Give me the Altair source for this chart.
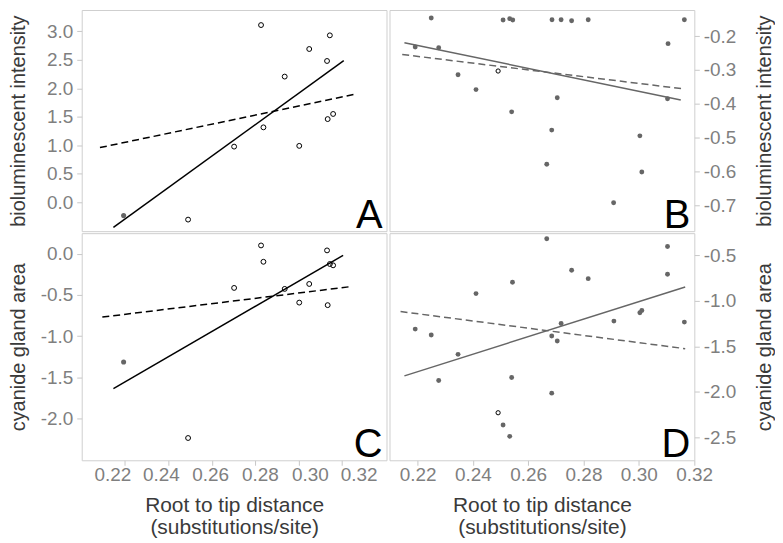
import altair as alt
import pandas as pd

FONT = "Liberation Sans"
X_TICKS = [0.22, 0.24, 0.26, 0.28, 0.30, 0.32]

# ---------------- Panel A / C (left column, same taxa) ----------------
ac_x = [0.2194, 0.2491, 0.2703, 0.2827, 0.2838, 0.2936, 0.3003, 0.3049, 0.3131, 0.3144, 0.3134, 0.3159]
ac_open = [0, 1, 1, 1, 1, 1, 1, 1, 1, 1, 1, 1]
a_y = [-0.234, -0.304, 0.977, 3.11, 1.315, 2.206, 0.99, 2.69, 2.48, 2.93, 1.46, 1.55]
c_y = [-1.312, -2.234, -0.414, 0.101, -0.097, -0.426, -0.592, -0.366, 0.041, -0.124, -0.623, -0.14]

# ---------------- Panel B ----------------
b_x = [0.2191, 0.2249, 0.2276, 0.2346, 0.2411, 0.2491, 0.2509, 0.2533, 0.2544, 0.2540, 0.2667, 0.2685,
       0.2686, 0.2705, 0.2719, 0.2757, 0.2817, 0.2909, 0.3004, 0.3011, 0.3106, 0.3104, 0.3165]
b_y = [-0.232, -0.146, -0.234, -0.314, -0.358, -0.303, -0.152, -0.148, -0.152, -0.424, -0.579, -0.478,
       -0.151, -0.382, -0.151, -0.154, -0.151, -0.693, -0.495, -0.602, -0.222, -0.385, -0.151]
b_open = [0, 0, 0, 0, 0, 1, 0, 0, 0, 0, 0, 0, 0, 0, 0, 0, 0, 0, 0, 0, 0, 0, 0]

# ---------------- Panel D ----------------
d_x = [0.2191, 0.2249, 0.2276, 0.2346, 0.2411, 0.2491, 0.2509, 0.2533, 0.2540, 0.2543, 0.2685, 0.2685,
       0.2705, 0.2719, 0.2757, 0.2817, 0.2910, 0.3004, 0.3011, 0.3104, 0.3165, 0.2667, 0.3104]
d_y = [-1.310, -1.375, -1.875, -1.587, -0.920, -2.229, -2.364, -2.488, -1.842, -0.795, -2.014, -1.386,
       -1.441, -1.248, -0.664, -0.756, -1.222, -1.131, -1.106, -0.708, -1.233, -0.318, -0.402]
d_open = [0, 0, 0, 0, 0, 1, 0, 0, 0, 0, 0, 0, 0, 0, 0, 0, 0, 0, 0, 0, 0, 0, 0]

# ---------------- Regression lines (end points) ----------------
a_solid_x, a_solid_y = [0.2147, 0.3208], [-0.439, 2.486]
a_dash_x, a_dash_y = [0.2085, 0.3254], [0.96, 1.892]
c_solid_x, c_solid_y = [0.2147, 0.3205], [-1.634, -0.02]
c_dash_x, c_dash_y = [0.2096, 0.3237], [-0.768, -0.399]
b_solid_x, b_solid_y = [0.2152, 0.3152], [-0.219, -0.389]
b_dash_x, b_dash_y = [0.2144, 0.3162], [-0.254, -0.356]
d_solid_x, d_solid_y = [0.2152, 0.3168], [-1.824, -0.847]
d_dash_x, d_dash_y = [0.2138, 0.3168], [-1.117, -1.525]

# axis tick values
a_ticks = [0.0, 0.5, 1.0, 1.5, 2.0, 2.5, 3.0]
b_ticks = [-0.7, -0.6, -0.5, -0.4, -0.3, -0.2]
c_ticks = [-2.0, -1.5, -1.0, -0.5, 0.0]
d_ticks = [-2.5, -2.0, -1.5, -1.0, -0.5]

X_TITLE = ["Root to tip distance", "(substitutions/site)"]
PANEL_W = 306
TOP_H = 222
BOT_H = 228

left_label_offset = {
    "condition": [
        {"test": "datum.value < 0.23", "value": -12.6},
        {"test": "datum.value < 0.25", "value": -7.5},
        {"test": "datum.value < 0.27", "value": -1.7},
        {"test": "datum.value < 0.29", "value": 4.7},
        {"test": "datum.value < 0.31", "value": 11.3},
    ],
    "value": 16.7,
}


def make_panel(xs, ys, opens, solid, dash, letter, xdom, ydom, yticks, ytitle,
               right, height, show_x, line_color, open_size, dot_size, left_col):
    pts = pd.DataFrame({"x": xs, "y": ys, "open": opens})
    sol = pd.DataFrame({"x": solid[0], "y": solid[1]})
    das = pd.DataFrame({"x": dash[0], "y": dash[1]})

    if show_x:
        xkw = dict(values=X_TICKS, format=".2f", title=X_TITLE, labelPadding=0,
                   titlePadding=10, titleLineHeight=23, labelFlush=False, titleFontSize=21)
        if left_col:
            xkw["labelOffset"] = left_label_offset
        xaxis = alt.Axis(**xkw)
    else:
        xaxis = None

    ykw = dict(values=yticks, format=".1f", title=ytitle,
               labelExpr="replace(datum.label, '\u2212', '-')", labelFlush=False,
               minExtent=38, maxExtent=38, titlePadding=15, labelPadding=4, titleFontSize=20)
    if right:
        ykw.update(orient="right", titleAngle=270, titleBaseline="top", titlePadding=22)
    yaxis = alt.Axis(**ykw)

    xenc = alt.X("x:Q", scale=alt.Scale(domain=xdom, nice=False, zero=False), axis=xaxis)
    yenc = alt.Y("y:Q", scale=alt.Scale(domain=ydom, nice=False, zero=False), axis=yaxis)

    l_solid = alt.Chart(sol).mark_line(color=line_color, strokeWidth=1.5, clip=True).encode(x=xenc, y=yenc)
    l_dash = alt.Chart(das).mark_line(color=line_color, strokeWidth=1.5, strokeDash=[7, 4], clip=True).encode(x=xenc, y=yenc)
    filled = alt.Chart(pts).transform_filter("datum.open == 0").mark_circle(
        color="#666666", size=dot_size, opacity=1).encode(x=xenc, y=yenc)
    hollow = alt.Chart(pts).transform_filter("datum.open == 1").mark_point(
        shape="circle", filled=False, color="#000000", strokeWidth=1, size=open_size, opacity=1).encode(x=xenc, y=yenc)
    lab = alt.Chart(pd.DataFrame({"t": [letter]})).mark_text(
        font=FONT, fontSize=40, align="right", baseline="alphabetic", color="#000000", clip=True).encode(
        x=alt.value(PANEL_W - 4), y=alt.value(height - 3), text="t:N")

    return alt.layer(l_solid, l_dash, filled, hollow, lab).properties(width=PANEL_W, height=height)


A = make_panel(ac_x, a_y, ac_open, (a_solid_x, a_solid_y), (a_dash_x, a_dash_y), "A",
               [0.2001, 0.3405], [-0.507, 3.374], a_ticks, "bioluminescent intensity",
               False, TOP_H, False, "#000000", 24, 26, True)
C = make_panel(ac_x, c_y, ac_open, (c_solid_x, c_solid_y), (c_dash_x, c_dash_y), "C",
               [0.2001, 0.3405], [-2.504, 0.25], c_ticks, "cyanide gland area",
               False, BOT_H, True, "#000000", 24, 26, True)
B = make_panel(b_x, b_y, b_open, (b_solid_x, b_solid_y), (b_dash_x, b_dash_y), "B",
               [0.2098, 0.3201], [-0.7773, -0.1224], b_ticks, "bioluminescent intensity",
               True, TOP_H, False, "#666666", 18, 24, False)
D = make_panel(d_x, d_y, d_open, (d_solid_x, d_solid_y), (d_dash_x, d_dash_y), "D",
               [0.2098, 0.3201], [-2.751, -0.256], d_ticks, "cyanide gland area",
               True, BOT_H, True, "#666666", 18, 24, False)

top = alt.hconcat(A, B, spacing=3, bounds="flush")
bottom = alt.hconcat(C, D, spacing=3, bounds="flush")

chart = alt.vconcat(top, bottom, spacing=0).properties(
    padding={"left": 0, "top": 0, "right": 0, "bottom": 0}
).configure_view(
    stroke="#cfcfcf", strokeWidth=1
).configure_axis(
    labelFont=FONT, titleFont=FONT, labelFontSize=19,
    labelColor="#7f7f7f", titleColor="#3a3a3a", tickColor="#c8c8c8", tickSize=5,
    domain=False, grid=False, titleFontWeight="normal"
)

chart.save("out.html", embed_options={"renderer": "svg", "actions": False})
